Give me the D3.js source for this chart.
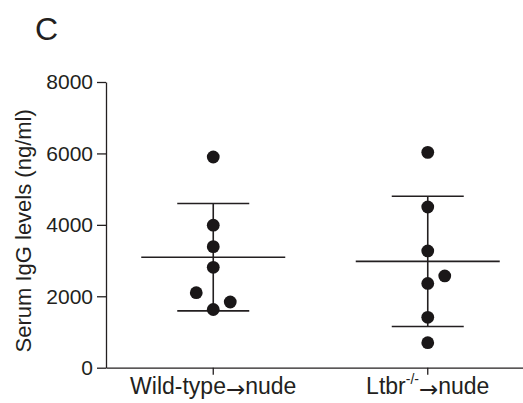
<!DOCTYPE html>
<html>
<head>
<meta charset="utf-8">
<script src="https://cdn.jsdelivr.net/npm/d3@7"></script>
<style>
  body { margin: 0; background: #fff; }
  svg { display: block; font-family: "Liberation Sans", Arial, Helvetica, sans-serif; }
  .axis path, .axis line { stroke: #231f20; stroke-width: 1.3; }
  .axis text { fill: #231f20; font-size: 21px; font-family: "Liberation Sans", Arial, Helvetica, sans-serif; }
  .arrow { font-family: "DejaVu Sans", sans-serif; }
</style>
</head>
<body>
<svg id="chart"></svg>
<script>
// groups on the x axis
const groups = ["wt", "ltbr"];

// serum IgG (ng/ml) per mouse
const wildTypeValues = [5900, 3990, 3390, 2810, 2100, 1840, 1630];
const ltbrValues = [6030, 4500, 3270, 2570, 2360, 1410, 700];

// horizontal slot of each dot (-1 left, 0 centre, 1 right)
const wildTypeSlots = [0, 0, 0, 0, -1, 1, 0];
const ltbrSlots = [0, 0, 0, 1, 0, 0, 0];

const yTicks = [0, 2000, 4000, 6000, 8000];

const width = 523, height = 403;
const margin = { top: 82, right: -12, bottom: 35, left: 106 };

const svg = d3.select("#chart").attr("width", width).attr("height", height);

const x = d3.scaleBand()
  .domain(groups)
  .range([margin.left, width - margin.right]);

const y = d3.scaleLinear()
  .domain([0, 8000])
  .range([height - margin.bottom - 0.3, margin.top]);

const series = [
  { key: "wt", values: wildTypeValues, slots: wildTypeSlots },
  { key: "ltbr", values: ltbrValues, slots: ltbrSlots },
];

// panel letter
svg.append("text")
  .attr("x", 35)
  .attr("y", 40)
  .attr("font-size", 32)
  .attr("fill", "#231f20")
  .text("C");

// y axis
const yAxis = d3.axisLeft(y)
  .tickValues(yTicks)
  .tickFormat(d3.format("d"))
  .tickSize(9)
  .tickPadding(4)
  .tickSizeOuter(0);
svg.append("g")
  .attr("class", "axis")
  .attr("transform", `translate(${margin.left},0)`)
  .call(yAxis);

svg.append("text")
  .attr("transform", `translate(31,${(y(0) + y(8000)) / 2 + 6}) rotate(-90)`)
  .attr("text-anchor", "middle")
  .attr("font-size", 22)
  .attr("fill", "#231f20")
  .text("Serum IgG levels (ng/ml)");

// x axis
const xAxis = d3.axisBottom(x).tickSize(7).tickSizeOuter(0).tickFormat("");
svg.append("g")
  .attr("class", "axis")
  .attr("transform", `translate(0,${y(0)})`)
  .call(xAxis);

// x labels with arrows
const lab1 = svg.append("text")
  .attr("x", x("wt") + x.bandwidth() / 2)
  .attr("y", 394)
  .attr("text-anchor", "middle")
  .attr("font-size", 23)
  .attr("fill", "#231f20");
lab1.append("tspan").text("Wild-type");
lab1.append("tspan").attr("class", "arrow").attr("font-size", 23).attr("dy", 3).text("\u2192");
lab1.append("tspan").attr("dy", -3).text("nude");

const lab2 = svg.append("text")
  .attr("x", x("ltbr") + x.bandwidth() / 2)
  .attr("y", 394)
  .attr("text-anchor", "middle")
  .attr("font-size", 23)
  .attr("fill", "#231f20");
lab2.append("tspan").text("Ltbr");
lab2.append("tspan").attr("font-size", 14).attr("dy", -10).text("-/-");
lab2.append("tspan").attr("class", "arrow").attr("font-size", 23).attr("dy", 13).text("\u2192");
lab2.append("tspan").attr("dy", -3).text("nude");

// mean and SD lines, then dots
const meanHalf = 72, capHalf = 36, slotGap = 17;

series.forEach(s => {
  const cx = x(s.key) + x.bandwidth() / 2;
  const m = d3.mean(s.values);
  const sd = d3.deviation(s.values);
  const g = svg.append("g").attr("stroke", "#231f20").attr("stroke-width", 1.6);

  g.append("line")
    .attr("x1", cx).attr("x2", cx)
    .attr("y1", y(m + sd)).attr("y2", y(m - sd));
  g.append("line")
    .attr("x1", cx - meanHalf).attr("x2", cx + meanHalf)
    .attr("y1", y(m)).attr("y2", y(m));
  [m + sd, m - sd].forEach(v => {
    g.append("line")
      .attr("x1", cx - capHalf).attr("x2", cx + capHalf)
      .attr("y1", y(v)).attr("y2", y(v));
  });

  svg.append("g")
    .selectAll("circle")
    .data(s.values)
    .join("circle")
    .attr("cx", (d, i) => cx + s.slots[i] * slotGap)
    .attr("cy", d => y(d))
    .attr("r", 6.4)
    .attr("fill", "#1a1718");
});
</script>
</body>
</html>
